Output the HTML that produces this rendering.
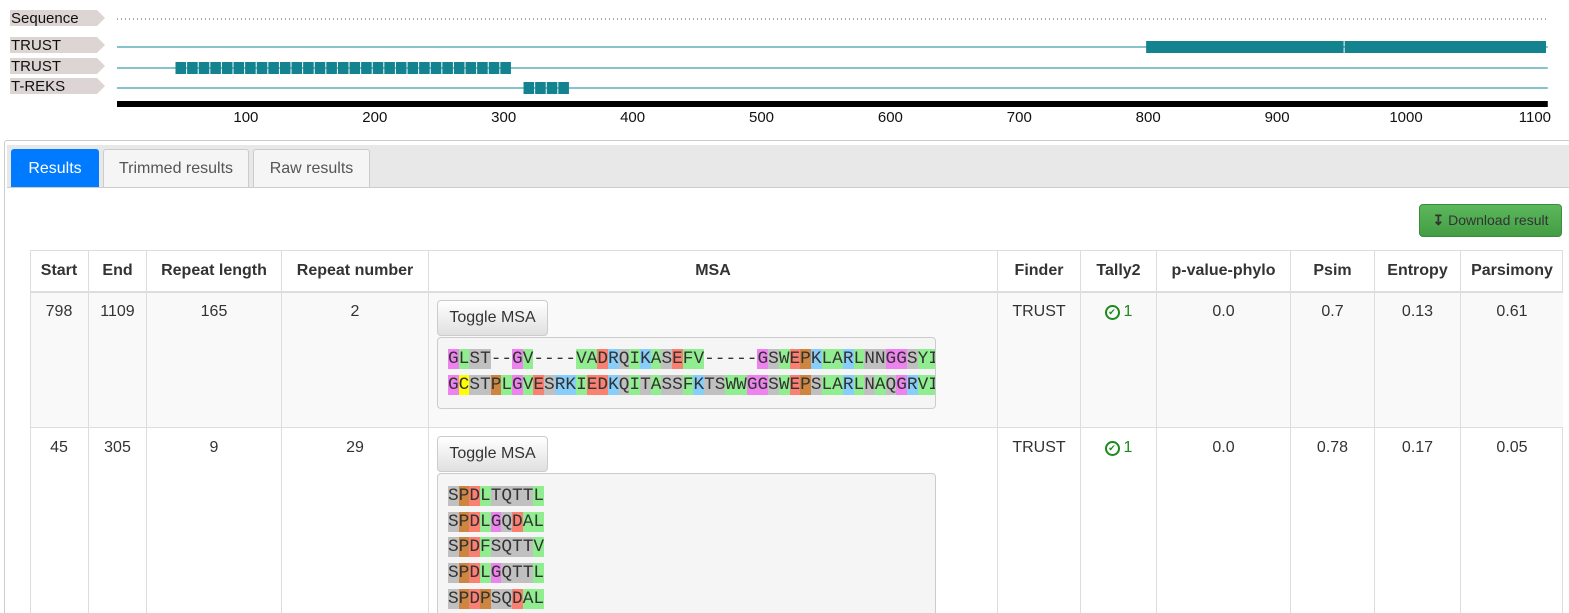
<!DOCTYPE html>
<html style="width:1569px;height:613px;overflow:hidden"><head><meta charset="utf-8">
<style>
html,body{margin:0;width:1569px;height:613px;overflow:hidden}
body{background:#fff;font-family:"Liberation Sans",sans-serif;color:#333;position:relative}
.abs{position:absolute}
.tab{position:absolute;top:149px;height:38px;box-sizing:border-box;border:1px solid #ccc;border-bottom:none;border-radius:3px 3px 0 0;background:#f5f5f5;font-size:16px;line-height:38px;text-align:center;color:#555}
.cell{position:absolute;box-sizing:border-box;border-left:1px solid #ddd;text-align:center;font-size:16px}
.hd{font-weight:bold;top:251px;height:40px;line-height:40px;color:#333}
.btn{position:absolute;left:437px;width:111px;height:36px;box-sizing:border-box;border:1px solid #ccc;border-radius:4px;background:linear-gradient(#fff,#e0e0e0);font-size:16px;line-height:34px;text-align:center;color:#333}
.msa{position:absolute;left:437px;width:499px;box-sizing:border-box;border:1px solid #ccc;border-radius:4px;background:#f5f5f5;overflow:hidden;padding:9px 0 0 10px;font-family:"Liberation Mono",monospace;font-size:17.8px;line-height:25.7px;white-space:pre;color:#333}
.G{background:#ee82ee}.h{background:#90ee90}.p{background:#c0c0c0}.n{background:#fa8072}.b{background:#87cefa}.P{background:#cd853f}.C{background:#ffff00}
</style></head><body>
<div class="abs" style="left:0;top:0;width:1569px;height:613px;overflow:hidden">
<svg class="abs" style="left:0;top:0" width="1569" height="135">
<g id="labels"></g><g id="tracks"></g><g id="axis"></g>
</svg>
<div class="abs" style="left:4px;top:140px;width:1570px;height:480px;border:1px solid #ccc;border-radius:3px;box-sizing:border-box"></div>
<div class="abs" style="left:7px;top:145px;width:1570px;height:42px;background:#e8e8e8;border-bottom:1px solid #ccc"></div>
<div class="tab" style="left:11px;width:88px;background:#007bff;border-color:#007bff;color:#fff">Results</div>
<div class="tab" style="left:103px;width:146px">Trimmed results</div>
<div class="tab" style="left:253px;width:117px">Raw results</div>
<div class="abs" style="left:1419px;top:204px;width:143px;height:33px;border:1px solid #3d8b3d;box-sizing:border-box;border-radius:4px;background:linear-gradient(#5cb85c,#449d44);color:#333;font-size:14px;line-height:31px;text-align:center"><span style="font-weight:bold">&#8615;</span> Download result</div>

<div class="abs" style="left:30px;top:250px;width:1533px;height:370px;border:1px solid #ddd;box-sizing:border-box"></div>
<div class="abs" style="left:31px;top:291px;width:1532px;height:137px;background:#f9f9f9;border-top:2px solid #ddd;box-sizing:border-box"></div>
<div class="abs" style="left:31px;top:427px;width:1532px;height:1px;background:#ddd"></div>
<div id="table"></div>

<div class="btn" style="top:300px">Toggle MSA</div>
<div class="msa" style="top:337px;height:72px"><span class="G">G</span><span class="h">L</span><span class="p">ST</span>--<span class="G">G</span><span class="h">V</span>----<span class="h">VA</span><span class="n">D</span><span class="b">R</span><span class="p">Q</span><span class="h">I</span><span class="b">K</span><span class="h">A</span><span class="p">S</span><span class="n">E</span><span class="h">FV</span>-----<span class="G">G</span><span class="p">S</span><span class="h">W</span><span class="n">E</span><span class="P">P</span><span class="b">K</span><span class="h">LA</span><span class="b">R</span><span class="h">L</span><span class="p">NN</span><span class="G">GG</span><span class="p">S</span><span class="h">YI</span>
<span class="G">G</span><span class="C">C</span><span class="p">ST</span><span class="P">P</span><span class="h">L</span><span class="G">G</span><span class="h">V</span><span class="n">E</span><span class="p">S</span><span class="b">RK</span><span class="h">I</span><span class="n">ED</span><span class="b">K</span><span class="p">Q</span><span class="h">I</span><span class="p">T</span><span class="h">A</span><span class="p">SS</span><span class="h">F</span><span class="b">K</span><span class="p">TS</span><span class="h">WW</span><span class="G">GG</span><span class="p">S</span><span class="h">W</span><span class="n">E</span><span class="P">P</span><span class="p">S</span><span class="h">LA</span><span class="b">R</span><span class="h">L</span><span class="p">N</span><span class="h">A</span><span class="p">Q</span><span class="G">G</span><span class="b">R</span><span class="h">VI</span></div>

<div class="btn" style="top:436px">Toggle MSA</div>
<div class="msa" style="top:473px;height:160px;padding-top:10px"><span class="p">S</span><span class="P">P</span><span class="n">D</span><span class="h">L</span><span class="p">TQTT</span><span class="h">L</span>
<span class="p">S</span><span class="P">P</span><span class="n">D</span><span class="h">L</span><span class="G">G</span><span class="p">Q</span><span class="n">D</span><span class="h">AL</span>
<span class="p">S</span><span class="P">P</span><span class="n">D</span><span class="h">F</span><span class="p">SQTT</span><span class="h">V</span>
<span class="p">S</span><span class="P">P</span><span class="n">D</span><span class="h">L</span><span class="G">G</span><span class="p">QTT</span><span class="h">L</span>
<span class="p">S</span><span class="P">P</span><span class="n">D</span><span class="P">P</span><span class="p">SQ</span><span class="n">D</span><span class="h">AL</span></div>
</div>

<script>
// ---- track chart data ----
const trackNames = ["Sequence","TRUST","TRUST","T-REKS"];
const trackStarts = [[],[798,952],[45],[315]];
const trackUnitLen = [[],[154,157],[9],[9]];
const trackUnitCount = [[],[1,1],[29],[4]];
const seqLength = 1110;
const tickValues = [100,200,300,400,500,600,700,800,900,1000,1100];

const NS="http://www.w3.org/2000/svg";
function xs(v){return 117+v*1.289;}
const rowY=[18,45,66,86];
const lineY=[19,47,68,88];
function mk(tag,attrs,parent){const e=document.createElementNS(NS,tag);for(const k in attrs)e.setAttribute(k,attrs[k]);parent.appendChild(e);return e;}
const L=document.getElementById('labels'),T=document.getElementById('tracks'),A=document.getElementById('axis');
trackNames.forEach((n,i)=>{
  const y=rowY[i];
  const p=mk('polygon',{points:`10,${y-8} 97,${y-8} 105,${y} 97,${y+8} 10,${y+8}`,fill:'#ddd5d3'},L);
  
  
  const t=mk('text',{x:11,y:y+5,'font-size':15,fill:'#111','font-family':'Liberation Sans, sans-serif'},L);
  t.textContent=n;
  
  
  const ly=lineY[i];
  if(i===0){
    const d=mk('line',{x1:xs(0),x2:xs(seqLength),y1:ly,y2:ly,stroke:'#555','stroke-width':1,'stroke-dasharray':'1,3'},T);
    
    
  }else{
    const l=mk('line',{x1:xs(0),x2:xs(seqLength),y1:ly,y2:ly,stroke:'#86c3ca','stroke-width':2},T);
    
    
    trackStarts[i].forEach((s,j)=>{
      const len=trackUnitLen[i][j];
      for(let k=0;k<trackUnitCount[i][j];k++){
        const a=s+k*len;
        const r=mk('rect',{x:xs(a)+0.5,y:ly-6,width:Math.max(1,xs(a+len)-xs(a)-1),height:12,fill:'#13838f'},T);
        
        
      }
    });
  }
});
const ax=mk('rect',{x:xs(0),y:101,width:xs(seqLength)-xs(0),height:6,fill:'#000'},A);


tickValues.forEach(v=>{
  const t=mk('text',{x:xs(v),y:122,'font-size':15,'text-anchor':'middle',fill:'#111','font-family':'Liberation Sans, sans-serif'},A);
  t.textContent=v;
  
  
});

// ---- table ----
const colEdges=[30,88,146,281,428,997,1080,1156,1290,1374,1460,1563];
const headers=["Start","End","Repeat length","Repeat number","MSA","Finder","Tally2","p-value-phylo","Psim","Entropy","Parsimony"];
const rows=[["798","1109","165","2","","TRUST","1","0.0","0.7","0.13","0.61"],["45","305","9","29","","TRUST","1","0.0","0.78","0.17","0.05"]];
const rowTops=[291,428];
const tbl=document.getElementById('table');
headers.forEach((h,i)=>{
  const d=document.createElement('div');
  d.className='cell hd';
  d.style.left=colEdges[i]+'px';d.style.width=(colEdges[i+1]-colEdges[i])+'px';
  d.style.borderLeft=i===0?'none':'1px solid #ddd';
  d.textContent=h;
  
  
  tbl.appendChild(d);
});
rows.forEach((r,ri)=>{
  r.forEach((v,i)=>{
    const d=document.createElement('div');
    d.className='cell';
    d.style.left=colEdges[i]+'px';d.style.width=(colEdges[i+1]-colEdges[i])+'px';
    d.style.top=(rowTops[ri]+(ri===0?1:0))+'px';d.style.height=(ri===0?136:185)+'px';
    d.style.paddingTop='11px';
    d.style.borderLeft=i===0?'none':'1px solid #ddd';
    if(i===6){
      d.innerHTML='<span style="color:#1a8a1a;border:2px solid #1a8a1a;border-radius:50%;font-size:9px;display:inline-block;width:11px;height:11px;line-height:11px;text-align:center;vertical-align:1px;margin-right:4px">\u2714\uFE0E</span><span style="color:#1a8a1a">'+v+'</span>';
    }
    else d.textContent=v;
    
    
    tbl.appendChild(d);
  });
});
</script>
</body></html>
